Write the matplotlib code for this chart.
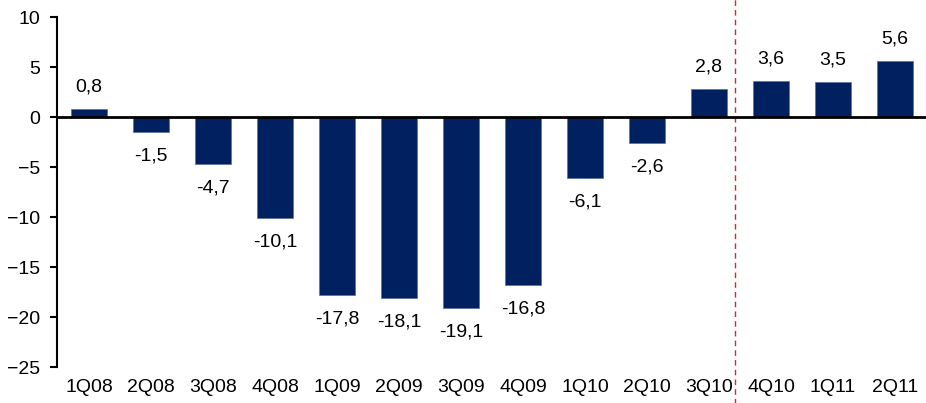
import numpy as np
import matplotlib.pyplot as plt

plt.rcParams['font.family'] = ['Liberation Sans', 'DejaVu Sans']

quarters = ['1Q08', '2Q08', '3Q08', '4Q08', '1Q09', '2Q09', '3Q09',
            '4Q09', '1Q10', '2Q10', '3Q10', '4Q10', '1Q11', '2Q11']
values = [0.8, -1.5, -4.7, -10.1, -17.8, -18.1, -19.1,
          -16.8, -6.1, -2.6, 2.8, 3.6, 3.5, 5.6]

fig = plt.figure(figsize=(9.26, 4.03), dpi=100)
ax = fig.add_axes([57/926, 1-367/403, 1-57/926, 350/403])

x = np.arange(len(quarters))
ax.bar(x, values, width=0.58, color='#002060', edgecolor='#5a6e9a', linewidth=0.5, zorder=2)

for xi, v in zip(x, values):
    lab = f'{v:.1f}'.replace('.', ',')
    if v >= 0:
        ax.annotate(lab, (xi, v), xytext=(0, 10), textcoords='offset points',
                    ha='center', va='bottom', fontsize=14)
    else:
        ax.annotate(lab, (xi, v), xytext=(0, -11), textcoords='offset points',
                    ha='center', va='top', fontsize=14)

ax.axhline(0, color='black', linewidth=2, zorder=3)
ax.axvline(10.42, ymin=-0.2, ymax=1.1, color='#e0202a', linestyle=(0, (4, 3)),
           linewidth=1, clip_on=False, zorder=1)

ax.set_xlim(-0.515, 13.5)
ax.set_ylim(-25, 10)
ax.set_yticks(range(-25, 11, 5))
ax.set_xticks(x)
ax.set_xticklabels(quarters)
ax.tick_params(axis='x', length=0, pad=9, labelsize=14)
ax.tick_params(axis='y', length=5, width=1.5, direction='out', pad=7, labelsize=14)

for s in ['top', 'right', 'bottom']:
    ax.spines[s].set_visible(False)
ax.spines['left'].set_linewidth(1.5)

fig.savefig('out.png', dpi=100)
